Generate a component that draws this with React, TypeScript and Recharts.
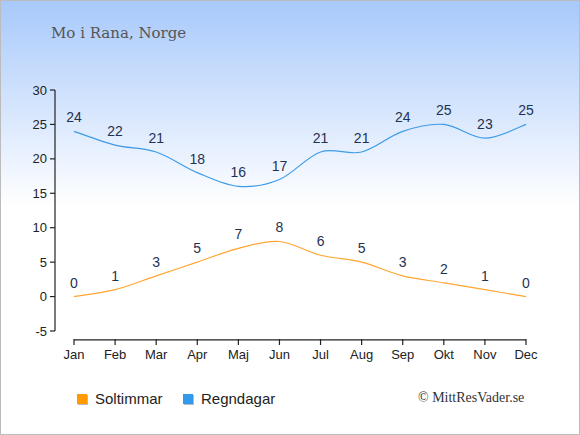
import { LabelList, Line, LineChart, ReferenceLine, XAxis, YAxis } from "recharts"

const months = ["Jan", "Feb", "Mar", "Apr", "Maj", "Jun", "Jul", "Aug", "Sep", "Okt", "Nov", "Dec"]
const soltimmar = [0, 1, 3, 5, 7, 8, 6, 5, 3, 2, 1, 0]
const regndagar = [24, 22, 21, 18, 16, 17, 21, 21, 24, 25, 23, 25]
const yTicks = [-5, 0, 5, 10, 15, 20, 25, 30]
const legendItems = [
    { label: "Soltimmar", color: "#ff9a00", left: 77 },
    { label: "Regndagar", color: "#3399ea", left: 183 },
]

const ORANGE = "#ffa632"
const BLUE = "#3d9be9"
const SANS = "Liberation Sans, Arial, sans-serif"

const data = months.map((m, i) => ({ month: m, sol: soltimmar[i], regn: regndagar[i] }))

// catmull-rom style smoothing, the reference overshoots a little between equal values
const smooth = (context: any) => {
    let pts: number[][] = []
    return {
        areaStart() {},
        areaEnd() {},
        lineStart() { pts = [] },
        point(x: number, y: number) { pts.push([+x, +y]) },
        lineEnd() {
            if (!pts.length) return
            context.moveTo(pts[0][0], pts[0][1])
            for (let i = 0; i < pts.length - 1; i++) {
                const p0 = pts[i - 1] || pts[i]
                const p1 = pts[i]
                const p2 = pts[i + 1]
                const p3 = pts[i + 2] || p2
                const k = 1 / 6
                context.bezierCurveTo(
                    p1[0] + (p2[0] - p0[0]) * k, p1[1] + (p2[1] - p0[1]) * k,
                    p2[0] - (p3[0] - p1[0]) * k, p2[1] - (p3[1] - p1[1]) * k,
                    p2[0], p2[1])
            }
        },
    }
}

const MonthTick = ({ x, y, payload }: any) => (
    <g>
        <line x1={x} x2={x} y1={y + 8} y2={y + 14} stroke="#222" strokeWidth={1.2} />
        <text x={x} y={y + 28} textAnchor="middle" fontSize={13} fill="#222" fontFamily={SANS}>
            {payload.value}
        </text>
    </g>
)

export default function App() {
    return (
        <div style={{
            position: "absolute", left: 0, top: 0, width: 580, height: 435, boxSizing: "border-box",
            border: "1px solid #bcbcbc", background: "linear-gradient(to bottom, #a8c9fb 0px, #ffffff 205px)"
        }}>
            <div style={{ position: "absolute", left: 50, top: 23, fontFamily: "DejaVu Serif, serif", fontSize: 15, color: "#555" }}>
                Mo i Rana, Norge
            </div>
            <div style={{ position: "absolute", left: 417, top: 389, fontFamily: "Liberation Serif, serif", fontSize: 14, color: "#333" }}>
                © MittResVader.se
            </div>
            {legendItems.map(it => (
                <div key={it.label} style={{
                    position: "absolute", left: it.left - 1, top: 389, display: "flex", alignItems: "center",
                    fontFamily: SANS, fontSize: 15, color: "#222"
                }}>
                    <span style={{ width: 10, height: 10, background: it.color, boxShadow: "1px 1px 0 #bbb", marginRight: 8 }} />
                    {it.label}
                </div>
            ))}
            <div style={{ position: "absolute", left: -1, top: -1 }}>
                <LineChart width={580} height={435} data={data} margin={{ top: 90, right: 35, bottom: 74, left: 0 }}>
                    <XAxis dataKey="month" axisLine={false} tickLine={false} tickSize={0} tickMargin={0}
                        padding={{ left: 19, right: 19 }} tick={<MonthTick />} height={30} interval={0} />
                    <YAxis domain={[-5, 30]} ticks={yTicks} width={55} tickSize={5} tickMargin={3}
                        axisLine={{ stroke: "#222", strokeWidth: 1.2 }} tickLine={{ stroke: "#222", strokeWidth: 1.2 }}
                        tick={{ fontSize: 13, fill: "#222", fontFamily: SANS }} />
                    <ReferenceLine segment={[{ x: "Jan", y: -6.3 }, { x: "Dec", y: -6.3 }]} ifOverflow="visible"
                        stroke="#222" strokeWidth={1.2} />
                    <Line type={smooth as any} dataKey="sol" name="Soltimmar" stroke={ORANGE} strokeWidth={1.2} dot={false} isAnimationActive={false}>
                        <LabelList dataKey="sol" position="top" offset={9} fontSize={14} fill="#1f3253" fontFamily={SANS} />
                    </Line>
                    <Line type={smooth as any} dataKey="regn" name="Regndagar" stroke={BLUE} strokeWidth={1.2} dot={false} isAnimationActive={false}>
                        <LabelList dataKey="regn" position="top" offset={9} fontSize={14} fill="#1f3253" fontFamily={SANS} />
                    </Line>
                </LineChart>
            </div>
        </div>
    )
}
